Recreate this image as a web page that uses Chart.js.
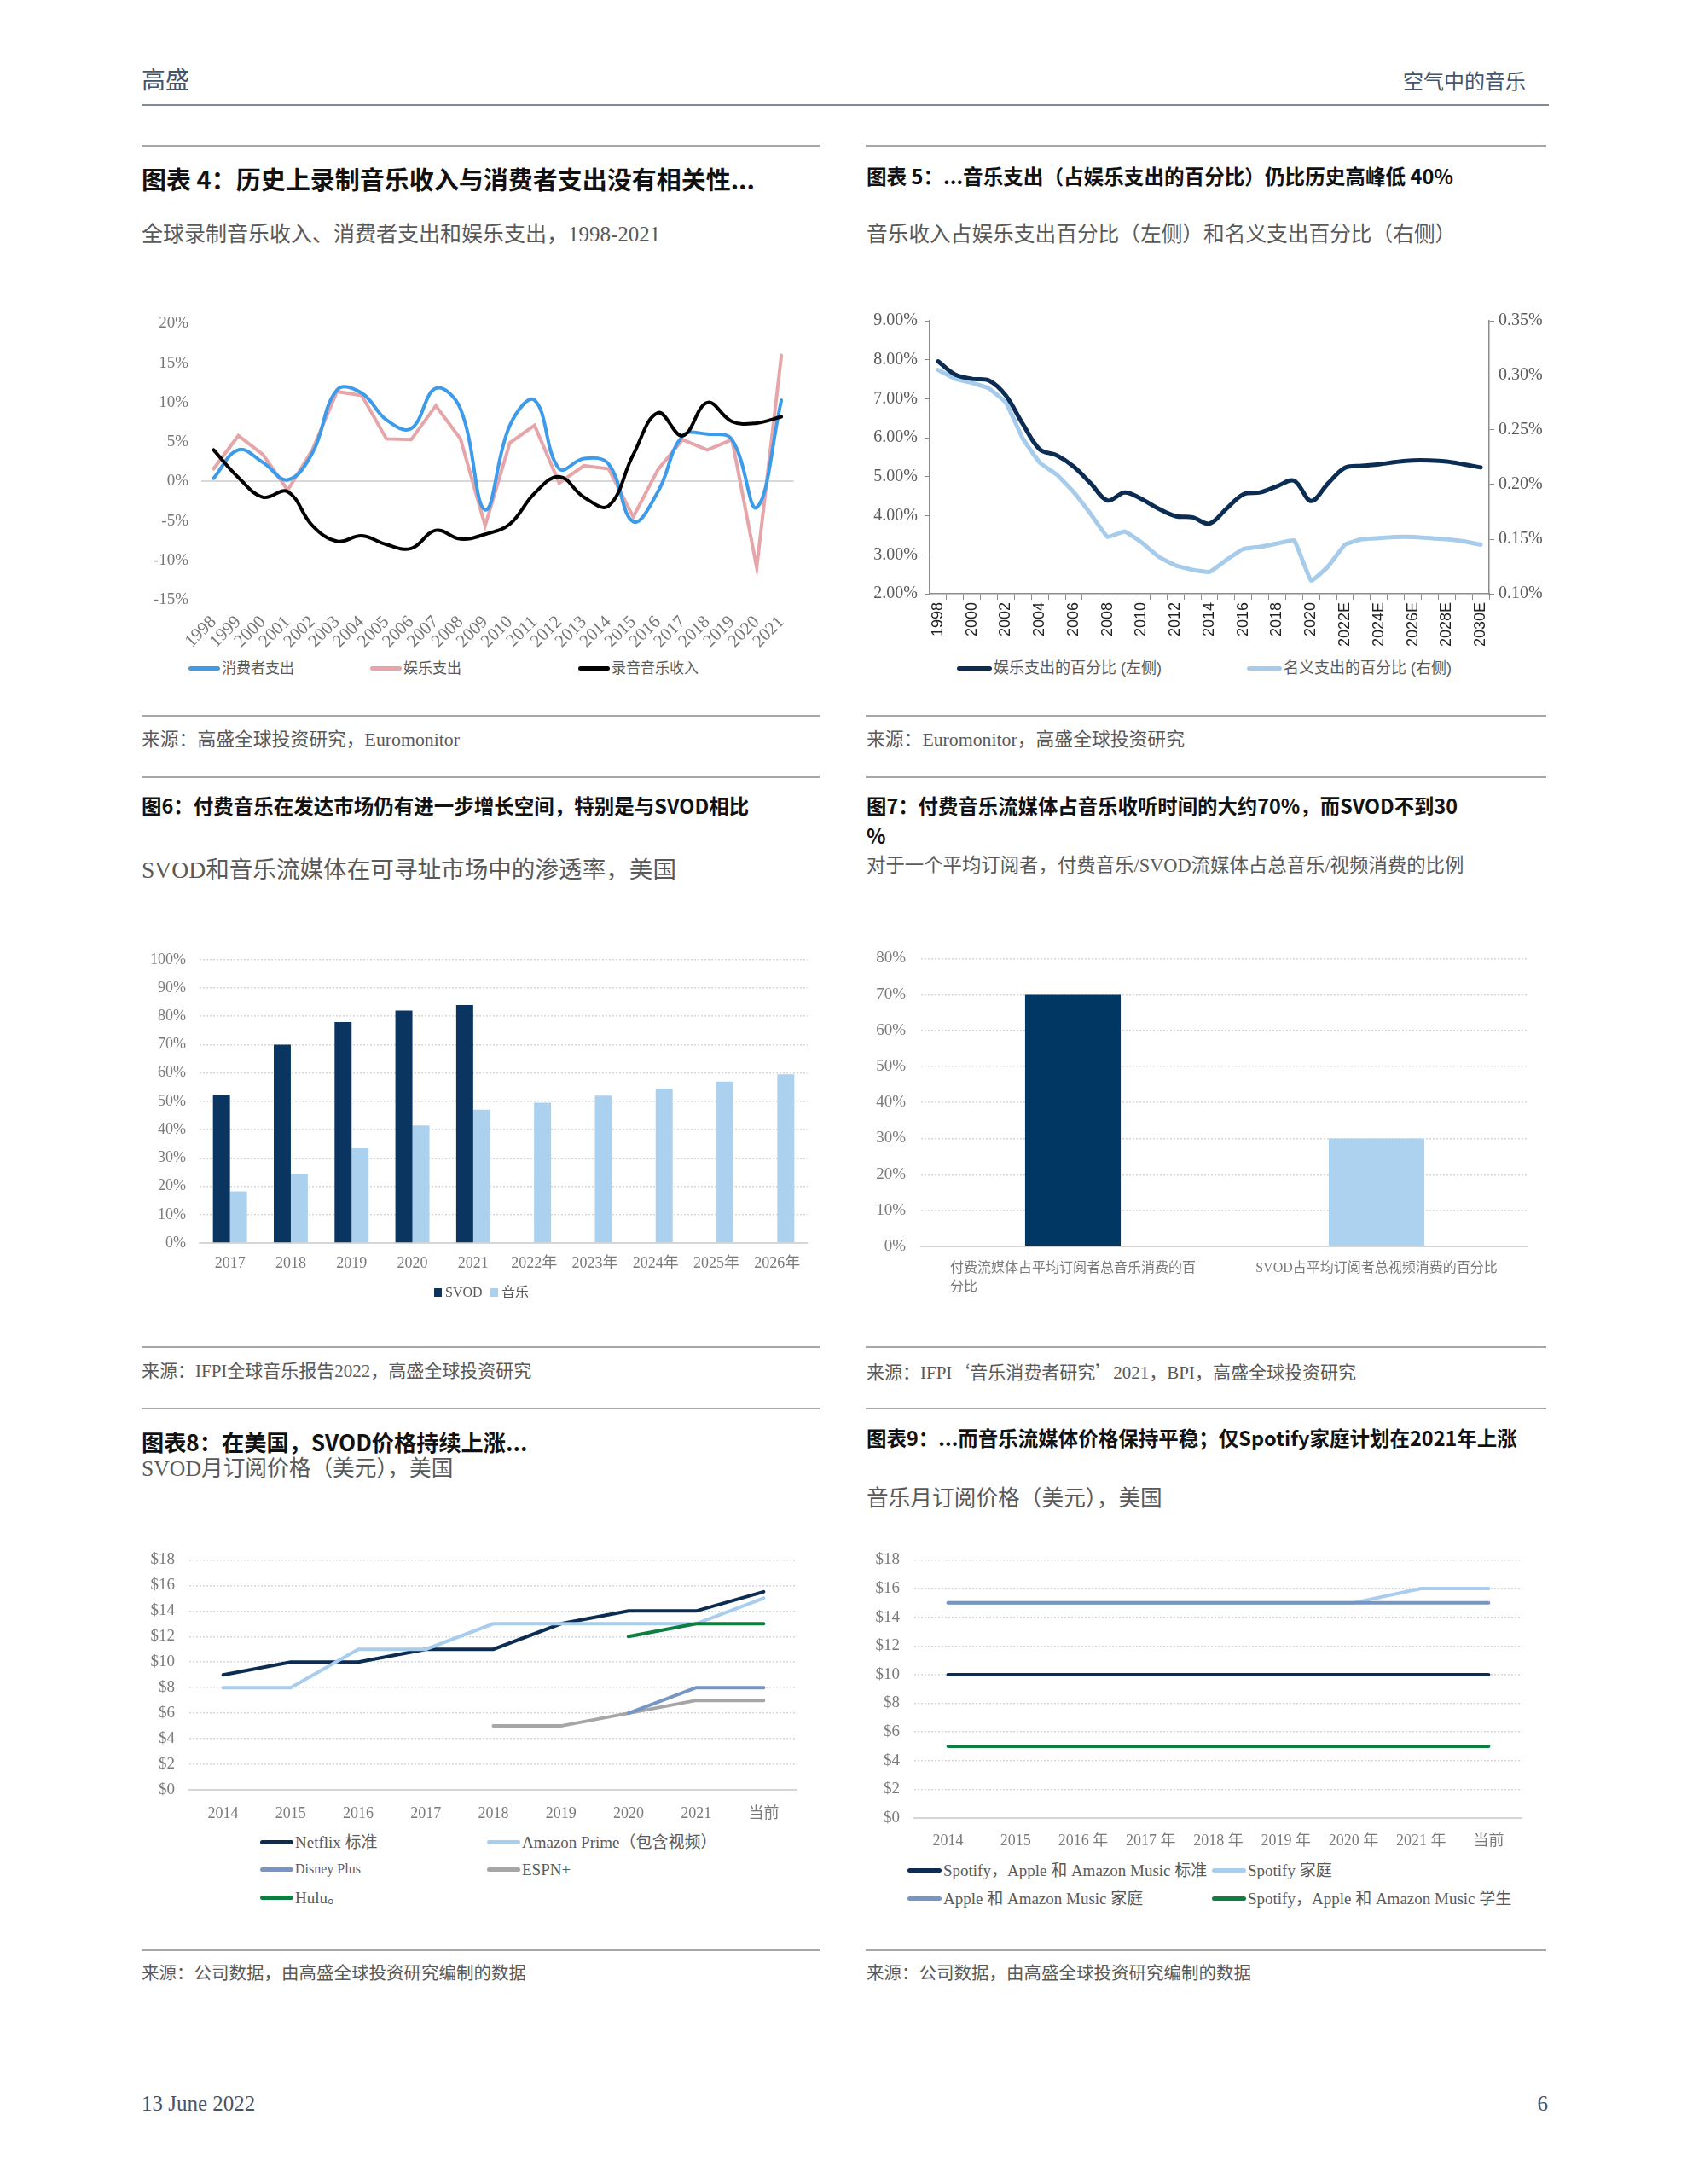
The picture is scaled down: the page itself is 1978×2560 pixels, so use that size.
<!DOCTYPE html>
<html lang="zh-CN">
<head>
<meta charset="utf-8">
<title>空气中的音乐</title>
<script src="https://cdn.jsdelivr.net/npm/chart.js@4.4.1/dist/chart.umd.min.js"></script>
<style>
  body { margin: 0; background: #fff; }
  #page { position: relative; width: 1978px; height: 2560px; overflow: hidden;
    font-family: "Liberation Serif", "Noto Sans CJK SC", serif; color: #595959; }
  .t { position: absolute; white-space: nowrap; line-height: 1; }
  .rule { position: absolute; height: 2px; background: #a6a6a6; }
  .title { font-family: "Noto Sans CJK SC", sans-serif; font-weight: 700; color: #111; }
  .cjk { font-family: "Noto Sans CJK SC", sans-serif; }
  canvas { position: absolute; }
  .lg { position: absolute; white-space: nowrap; line-height: 1; display: flex; align-items: center; color: #595959; }
  .lg i { display: inline-block; margin-right: 2px; }
</style>
</head>
<body>
<div id="page">
  <div class="t" style="left:166px;top:78px;font-size:28px;color:#44546a;font-family:'Noto Sans CJK SC'">高盛</div>
  <div class="t" style="right:189px;top:82px;font-size:24px;color:#44546a;font-family:'Noto Sans CJK SC'">空气中的音乐</div>
  <div class="rule" style="left:166px;top:122px;width:1650px;background:#7f8a96"></div>

  <!-- row 1 -->
  <div class="rule" style="left:166px;top:170px;width:795px"></div>
  <div class="rule" style="left:1015px;top:170px;width:798px"></div>
  <div class="t title" style="left:166px;top:195px;font-size:29px">图表 4：历史上录制音乐收入与消费者支出没有相关性...</div>
  <div class="t title" style="left:1016px;top:195px;font-size:23.6px">图表 5：...音乐支出（占娱乐支出的百分比）仍比历史高峰低 40%</div>
  <div class="t" style="left:166px;top:262px;font-size:25px">全球录制音乐收入、消费者支出和娱乐支出，1998-2021</div>
  <div class="t" style="left:1016px;top:263px;font-size:24.7px">音乐收入占娱乐支出百分比（左侧）和名义支出百分比（右侧）</div>
  <canvas id="c1" width="764" height="410" style="left:176px;top:353px"></canvas>
  <canvas id="c2" width="796" height="410" style="left:1020px;top:356px"></canvas>
  <div id="lg1"></div>
  <div id="lg2"></div>
  <div class="rule" style="left:166px;top:838px;width:795px"></div>
  <div class="rule" style="left:1015px;top:838px;width:798px"></div>
  <div class="t" style="left:166px;top:857px;font-size:21.8px">来源：高盛全球投资研究，Euromonitor</div>
  <div class="t" style="left:1016px;top:857px;font-size:21.8px">来源：Euromonitor，高盛全球投资研究</div>

  <!-- row 2 -->
  <div class="rule" style="left:166px;top:910px;width:795px"></div>
  <div class="rule" style="left:1015px;top:910px;width:798px"></div>
  <div class="t title" style="left:166px;top:933px;font-size:23.5px">图6：付费音乐在发达市场仍有进一步增长空间，特别是与SVOD相比</div>
  <div class="t title" style="left:1016px;top:927px;font-size:23.4px;line-height:35px">图7：付费音乐流媒体占音乐收听时间的大约70%，而SVOD不到30<br>%</div>
  <div class="t" style="left:166px;top:1006px;font-size:27.6px">SVOD和音乐流媒体在可寻址市场中的渗透率，美国</div>
  <div class="t" style="left:1016px;top:1004px;font-size:22.4px">对于一个平均订阅者，付费音乐/SVOD流媒体占总音乐/视频消费的比例</div>
  <canvas id="c3" width="773" height="409" style="left:174px;top:1098px"></canvas>
  <canvas id="c4" width="772" height="427" style="left:1020px;top:1094px"></canvas>
  <div id="lg3"></div>
  <div class="rule" style="left:166px;top:1578px;width:795px"></div>
  <div class="rule" style="left:1015px;top:1578px;width:798px"></div>
  <div class="t" style="left:166px;top:1597px;font-size:21px">来源：IFPI全球音乐报告2022，高盛全球投资研究</div>
  <div class="t" style="left:1016px;top:1597px;font-size:21px">来源：IFPI<span class="cjk">‘</span>音乐消费者研究<span class="cjk">’</span>2021，BPI，高盛全球投资研究</div>

  <!-- row 3 -->
  <div class="rule" style="left:166px;top:1650px;width:795px"></div>
  <div class="rule" style="left:1015px;top:1650px;width:798px"></div>
  <div class="t title" style="left:166px;top:1677px;font-size:26.2px">图表8：在美国，SVOD价格持续上涨...</div>
  <div class="t" style="left:166px;top:1709px;font-size:25.7px">SVOD月订阅价格（美元），美国</div>
  <div class="t title" style="left:1016px;top:1674px;font-size:23.5px">图表9：...而音乐流媒体价格保持平稳；仅Spotify家庭计划在2021年上涨</div>
  <div class="t" style="left:1016px;top:1744px;font-size:25.7px">音乐月订阅价格（美元），美国</div>
  <canvas id="c5" width="768" height="338" style="left:167px;top:1800px"></canvas>
  <canvas id="c6" width="768" height="371" style="left:1017px;top:1800px"></canvas>
  <div id="lg5"></div>
  <div id="lg6"></div>
  <div class="rule" style="left:166px;top:2285px;width:795px"></div>
  <div class="rule" style="left:1015px;top:2285px;width:798px"></div>
  <div class="t" style="left:166px;top:2303px;font-size:20.5px">来源：公司数据，由高盛全球投资研究编制的数据</div>
  <div class="t" style="left:1016px;top:2303px;font-size:20.5px">来源：公司数据，由高盛全球投资研究编制的数据</div>

  <div class="t" style="left:166px;top:2453px;font-size:25px;color:#44546a">13 June 2022</div>
  <div class="t" style="right:163px;top:2453px;font-size:25px;color:#44546a">6</div>
</div>

<script>
// ---- 图表4: growth rates, 1998-2021 (%)
const years1 = ['1998', '1999', '2000', '2001', '2002', '2003', '2004', '2005', '2006', '2007', '2008', '2009',
  '2010', '2011', '2012', '2013', '2014', '2015', '2016', '2017', '2018', '2019', '2020', '2021'];
const consumerSpend = [0.4, 4.0, 2.4, 0.2, 3.6, 11.6, 11.2, 7.8, 6.7, 11.8, 9.2, -3.6,
  7.1, 10.3, 1.6, 2.9, 2.2, -5.1, -1.3, 5.8, 6.0, 5.3, -3.3, 10.3];
const entertainmentSpend = [1.6, 5.8, 3.4, -1.1, 4.0, 11.4, 10.9, 5.4, 5.3, 9.6, 5.4, -5.6,
  4.9, 7.1, -0.2, 2.0, 1.6, -4.5, 1.5, 5.3, 4.0, 5.3, -10.9, 16.0];
const recordedRevenue = [4.0, 0.5, -2.0, -1.3, -5.6, -7.6, -6.9, -8.0, -8.5, -6.2, -7.3, -6.7,
  -5.4, -1.5, 0.6, -2.0, -3.1, 3.4, 8.7, 5.8, 10.0, 7.6, 7.4, 8.2];

// ---- 图表5: music share of spend (%)
const years2 = ['1998', '1999', '2000', '2001', '2002', '2003', '2004', '2005', '2006', '2007', '2008', '2009',
  '2010', '2011', '2012', '2013', '2014', '2015', '2016', '2017', '2018', '2019', '2020', '2021',
  '2022E', '2023E', '2024E', '2025E', '2026E', '2027E', '2028E', '2029E', '2030E'];
const shareOfEntertainment = [7.96, 7.62, 7.51, 7.47, 7.08, 6.35, 5.70, 5.55, 5.26, 4.83, 4.39, 4.60,
  4.43, 4.18, 3.99, 3.96, 3.80, 4.18, 4.55, 4.60, 4.76, 4.90, 4.38, 4.83,
  5.23, 5.28, 5.32, 5.38, 5.42, 5.42, 5.39, 5.32, 5.24];
const shareOfNominal = [0.305, 0.297, 0.293, 0.288, 0.275, 0.242, 0.220, 0.209, 0.193, 0.173, 0.152, 0.157,
  0.147, 0.134, 0.126, 0.122, 0.120, 0.131, 0.141, 0.143, 0.146, 0.149, 0.112, 0.125,
  0.145, 0.150, 0.151, 0.152, 0.152, 0.151, 0.150, 0.148, 0.145];

// ---- 图6: penetration, US (%)
const years3 = ['2017', '2018', '2019', '2020', '2021', '2022年', '2023年', '2024年', '2025年', '2026年'];
const svodPenetration = [52.3, 70, 78, 82, 84, null, null, null, null, null];
const musicPenetration = [18.2, 24.4, 33.4, 41.5, 47, 49.5, 52, 54.5, 57, 59.5];

// ---- 图7
const shareLabels = [
  ['付费流媒体占平均订阅者总音乐消费的百', '分比\u3000\u3000\u3000\u3000\u3000\u3000\u3000\u3000\u3000\u3000\u3000\u3000\u3000\u3000\u3000\u3000'],
  'SVOD占平均订阅者总视频消费的百分比'
];
const shareValues = [70, 30];

// ---- 图表8: SVOD prices ($)
const years5 = ['2014', '2015', '2016', '2017', '2018', '2019', '2020', '2021', '当前'];
const netflix = [9, 10, 10, 11, 11, 13, 14, 14, 15.5];
const amazonPrime = [8, 8, 11, 11, 13, 13, 13, 13, 15];
const disneyPlus = [null, null, null, null, null, null, 6, 8, 8];
const espnPlus = [null, null, null, null, 5, 5, 6, 7, 7];
const hulu = [null, null, null, null, null, null, 12, 13, 13];

// ---- 图表9: music prices ($)
const years6 = ['2014', '2015', '2016 年', '2017 年', '2018 年', '2019 年', '2020 年', '2021 年', '当前'];
const musicStandard = [10, 10, 10, 10, 10, 10, 10, 10, 10];
const spotifyFamily = [15, 15, 15, 15, 15, 15, 15, 16, 16];
const appleAmazonFamily = [15, 15, 15, 15, 15, 15, 15, 15, 15];
const musicStudent = [5, 5, 5, 5, 5, 5, 5, 5, 5];

const SERIF = '"Liberation Serif", "Noto Sans CJK SC", serif';
const SANS = '"Liberation Sans", "Noto Sans CJK SC", sans-serif';
Chart.defaults.font.family = SERIF;
Chart.defaults.animation = false;
Chart.defaults.responsive = false;
Chart.defaults.plugins.legend.display = false;
Chart.defaults.plugins.tooltip.enabled = false;
Chart.defaults.elements.point.radius = 0;

const fixW = w => s => { s.width = w; };
const fixH = h => s => { s.height = h; };

function lineDs(label, data, color, width, extra) {
  return Object.assign({ label, data, borderColor: color, backgroundColor: color,
    borderWidth: width, fill: false, tension: 0, spanGaps: false, borderCapStyle: 'round' }, extra || {});
}

// html legend built from the datasets; spots are layout only
function htmlLegend(id, chart, spots, opts) {
  const host = document.getElementById(id);
  chart.data.datasets.forEach((ds, i) => {
    const p = spots[i];
    const row = document.createElement('div');
    row.className = 'lg';
    row.style.left = p[0] + 'px';
    row.style.top = (p[1] - 12) + 'px';
    row.style.height = '24px';
    row.style.fontSize = (p[2] || opts.size) + 'px';
    row.style.fontFamily = opts.family || SERIF;
    const mark = document.createElement('i');
    if (opts.square) {
      mark.style.width = '9px'; mark.style.height = '10px';
      mark.style.marginRight = '4px';
      mark.style.background = ds.backgroundColor;
    } else {
      mark.style.width = opts.w + 'px'; mark.style.height = opts.h + 'px';
      mark.style.borderRadius = '3px';
      mark.style.background = ds.borderColor;
    }
    row.appendChild(mark);
    row.appendChild(document.createTextNode(ds.label));
    host.appendChild(row);
  });
}

// ---------- 图表 4
const c1 = new Chart(document.getElementById('c1'), {
  type: 'line',
  data: {
    labels: years1,
    datasets: [
      lineDs('消费者支出', consumerSpend, '#3d9be9', 4, { tension: 0.4, order: 1 }),
      lineDs('娱乐支出', entertainmentSpend, '#e6a5a8', 4, { order: 2 }),
      lineDs('录音音乐收入', recordedRevenue, '#000000', 4, { tension: 0.4, order: 0 })
    ]
  },
  options: {
    scales: {
      x: {
        offset: true,
        grid: { display: false },
        border: { display: false },
        afterFit: fixH(60),
        ticks: { autoSkip: false, minRotation: 45, maxRotation: 45, padding: 6,
          color: '#767676', font: { size: 21 } }
      },
      y: {
        min: -15, max: 20,
        afterFit: fixW(60),
        border: { display: false },
        grid: { drawTicks: false, lineWidth: 2,
          color: c => c.tick && c.tick.value === 0 ? '#d9d9d9' : 'rgba(0,0,0,0)' },
        ticks: { stepSize: 5, padding: 15, color: '#767676', font: { size: 19 },
          callback: v => v + '%' }
      }
    }
  }
});
htmlLegend('lg1', c1, [[221, 783], [434, 783], [678, 783]], { size: 17, w: 37, h: 5 });

// ---------- 图表 5
const axisGrey = '#8c8c8c';
const c2 = new Chart(document.getElementById('c2'), {
  type: 'line',
  data: {
    labels: years2,
    datasets: [
      lineDs('娱乐支出的百分比 (左侧)', shareOfEntertainment, '#0b2d54', 5, { tension: 0.35, yAxisID: 'y' }),
      lineDs('名义支出的百分比 (右侧)', shareOfNominal, '#a7cbea', 5, { tension: 0.1, yAxisID: 'y1' })
    ]
  },
  options: {
    scales: {
      x: {
        offset: true,
        afterFit: fixH(70),
        grid: { offset: true, drawOnChartArea: false, drawTicks: true, tickLength: 7, color: axisGrey },
        border: { display: true, color: axisGrey, width: 1.5 },
        ticks: { autoSkip: false, minRotation: 90, maxRotation: 90, padding: 3,
          color: '#222', font: { family: SANS, size: 18 },
          callback: (v, i) => (i % 2 === 0 ? years2[i] : '') }
      },
      y: {
        position: 'left', min: 2, max: 9,
        afterFit: fixW(70),
        grid: { drawOnChartArea: false, tickLength: 6, color: axisGrey },
        border: { display: true, color: axisGrey, width: 1.5 },
        ticks: { stepSize: 1, padding: 8, color: '#595959', font: { size: 20 },
          callback: v => v.toFixed(2) + '%' }
      },
      y1: {
        position: 'right', min: 0.10, max: 0.35,
        afterFit: fixW(70),
        grid: { drawOnChartArea: false, tickLength: 6, color: axisGrey },
        border: { display: true, color: axisGrey, width: 1.5 },
        ticks: { stepSize: 0.05, padding: 5, color: '#595959', font: { size: 20 },
          callback: v => v.toFixed(2) + '%' }
      }
    }
  }
});
htmlLegend('lg2', c2, [[1122, 783], [1462, 783]], { size: 18, w: 41, h: 5, family: SANS });

// shared dotted-grid y axis
function dottedY(min, max, step, fmt, pad, size) {
  return {
    min, max,
    border: { display: false, dash: [2, 2] },
    grid: { drawTicks: false, color: '#d6d6d6', lineWidth: 1.5 },
    ticks: { stepSize: step, padding: pad, color: '#7a7a7a', font: { size: size }, callback: fmt }
  };
}

// ---------- 图6
const c3 = new Chart(document.getElementById('c3'), {
  type: 'bar',
  data: {
    labels: years3,
    datasets: [
      { label: 'SVOD', data: svodPenetration, backgroundColor: '#0a3560' },
      { label: '音乐', data: musicPenetration, backgroundColor: '#acd1ef' }
    ]
  },
  options: {
    datasets: { bar: { categoryPercentage: 0.56, barPercentage: 1.0 } },
    scales: {
      x: {
        afterFit: fixH(50),
        grid: { display: false },
        border: { display: true, color: '#d6d6d6', width: 2 },
        ticks: { padding: 5, color: '#7a7a7a', font: { size: 18 } }
      },
      y: Object.assign(dottedY(0, 100, 10, v => v + '%', 16, 18), { afterFit: fixW(60) })
    }
  }
});
htmlLegend('lg3', c3, [[509, 1515], [575, 1515]], { size: 16, square: true });

// ---------- 图7
new Chart(document.getElementById('c4'), {
  type: 'bar',
  data: {
    labels: shareLabels,
    datasets: [
      { label: '比例', data: shareValues, backgroundColor: ['#003763', '#acd2f0'] }
    ]
  },
  options: {
    datasets: { bar: { categoryPercentage: 0.315, barPercentage: 1.0 } },
    scales: {
      x: {
        afterFit: fixH(60),
        grid: { display: false },
        border: { display: true, color: '#d6d6d6', width: 2 },
        ticks: { padding: 7, color: '#7a7a7a', font: { size: 16, lineHeight: 1.35 } }
      },
      y: Object.assign(dottedY(0, 80, 10, v => v + '%', 18, 19), { afterFit: fixW(60) })
    }
  }
});

// ---------- 图表8
const c5 = new Chart(document.getElementById('c5'), {
  type: 'line',
  data: {
    labels: years5,
    datasets: [
      lineDs('Netflix 标准', netflix, '#0c2c52', 4, { order: 3 }),
      lineDs('Amazon Prime（包含视频）', amazonPrime, '#a8cdee', 4, { order: 2 }),
      lineDs('Disney Plus', disneyPlus, '#7596c4', 4, { order: 4 }),
      lineDs('ESPN+', espnPlus, '#a6a6a6', 4, { order: 5 }),
      lineDs('Hulu。', hulu, '#0f7d40', 4, { order: 1 })
    ]
  },
  options: {
    scales: {
      x: {
        offset: true,
        afterFit: fixH(40),
        grid: { display: false },
        border: { display: true, color: '#d6d6d6', width: 2 },
        ticks: { autoSkip: false, padding: 9, color: '#7a7a7a', font: { size: 18 } }
      },
      y: Object.assign(dottedY(0, 18, 2, v => '$' + v, 17, 19), { afterFit: fixW(55) })
    }
  }
});
htmlLegend('lg5', c5, [[305, 2159], [571, 2159], [305, 2191, 16], [571, 2191], [305, 2224]], { size: 19, w: 39, h: 5 });

// ---------- 图表9
const c6 = new Chart(document.getElementById('c6'), {
  type: 'line',
  data: {
    labels: years6,
    datasets: [
      lineDs('Spotify，Apple 和 Amazon Music 标准', musicStandard, '#0c2c52', 4, { order: 1 }),
      lineDs('Spotify 家庭', spotifyFamily, '#a8cdee', 4, { order: 5 }),
      lineDs('Apple 和 Amazon Music 家庭', appleAmazonFamily, '#7596c4', 4, { order: 2 }),
      lineDs('Spotify，Apple 和 Amazon Music 学生', musicStudent, '#0f7d40', 4, { order: 3 })
    ]
  },
  options: {
    scales: {
      x: {
        offset: true,
        afterFit: fixH(40),
        grid: { display: false },
        border: { display: true, color: '#d6d6d6', width: 2 },
        ticks: { autoSkip: false, padding: 8, color: '#7a7a7a', font: { size: 18 } }
      },
      y: Object.assign(dottedY(0, 18, 2, v => '$' + v, 17, 19), { afterFit: fixW(55) })
    }
  }
});
htmlLegend('lg6', c6, [[1064, 2192], [1421, 2192], [1064, 2225], [1421, 2225]], { size: 19, w: 40, h: 5 });
</script>
</body>
</html>
